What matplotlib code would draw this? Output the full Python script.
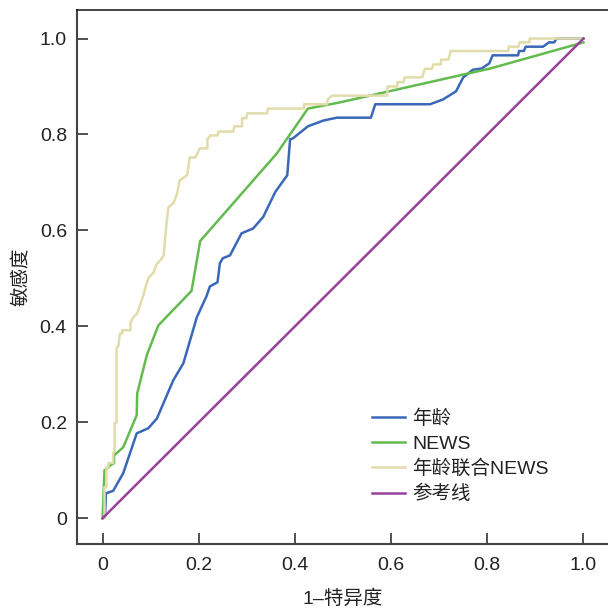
import matplotlib.pyplot as plt

plt.rcParams['font.family'] = ['Liberation Sans', 'Noto Sans CJK SC', 'DejaVu Sans']

# ROC curve points (1-specificity, sensitivity)
age_fpr = [0, 0.005, 0.007, 0.022, 0.043, 0.071, 0.095, 0.113, 0.147, 0.168, 0.182, 0.196,
           0.216, 0.223, 0.239, 0.244, 0.250, 0.265, 0.289, 0.313, 0.334, 0.359, 0.384,
           0.390, 0.396, 0.427, 0.459, 0.487, 0.558, 0.567, 0.681, 0.708, 0.735, 0.750,
           0.770, 0.788, 0.804, 0.811, 0.864, 0.866, 0.876, 0.880, 0.916, 0.928, 0.939,
           0.944, 1.0]
age_tpr = [0, 0.002, 0.052, 0.057, 0.094, 0.177, 0.1875, 0.208, 0.2875, 0.323, 0.371, 0.419,
           0.4625, 0.483, 0.492, 0.532, 0.542, 0.548, 0.594, 0.604, 0.628, 0.680, 0.715,
           0.790, 0.792, 0.817, 0.829, 0.835, 0.835, 0.863, 0.863, 0.873, 0.890, 0.919,
           0.935, 0.9375, 0.948, 0.965, 0.965, 0.974, 0.974, 0.983, 0.983, 0.992, 0.992,
           1.0, 1.0]

news_fpr = [0, 0.004, 0.012, 0.016, 0.024, 0.024, 0.043, 0.071, 0.072, 0.092, 0.116, 0.185,
            0.203, 0.362, 0.427, 0.494, 0.806, 1.0]
news_tpr = [0, 0.100, 0.106, 0.110, 0.115, 0.131, 0.148, 0.215, 0.260, 0.340, 0.402, 0.474,
            0.578, 0.760, 0.854, 0.867, 0.9375, 0.992]

comb_fpr = [0, 0.004, 0.004, 0.008, 0.008, 0.012, 0.012, 0.022, 0.022, 0.025, 0.025, 0.029,
            0.029, 0.033, 0.036, 0.041, 0.041, 0.058, 0.058, 0.064, 0.072, 0.079, 0.085,
            0.089, 0.096, 0.106, 0.112, 0.122, 0.127, 0.133, 0.137, 0.148, 0.155, 0.160,
            0.176, 0.181, 0.193, 0.202, 0.218, 0.218, 0.224, 0.239, 0.241, 0.272, 0.274,
            0.290, 0.290, 0.299, 0.301, 0.342, 0.344, 0.419, 0.419, 0.467, 0.468, 0.477,
            0.592, 0.592, 0.613, 0.613, 0.626, 0.628, 0.665, 0.667, 0.671, 0.685, 0.688,
            0.703, 0.704, 0.719, 0.724, 0.844, 0.844, 0.865, 0.867, 0.888, 0.888, 1.0]
comb_tpr = [0, 0, 0.065, 0.065, 0.106, 0.106, 0.115, 0.115, 0.135, 0.140, 0.198, 0.200,
            0.354, 0.360, 0.385, 0.385, 0.392, 0.392, 0.408, 0.419, 0.427, 0.448, 0.465,
            0.481, 0.502, 0.512, 0.529, 0.540, 0.548, 0.615, 0.648, 0.658, 0.677, 0.704,
            0.715, 0.752, 0.752, 0.771, 0.771, 0.790, 0.798, 0.798, 0.806, 0.806, 0.817,
            0.817, 0.834, 0.834, 0.844, 0.844, 0.854, 0.854, 0.863, 0.863, 0.873, 0.881,
            0.881, 0.900, 0.900, 0.909, 0.909, 0.919, 0.919, 0.928, 0.937, 0.937, 0.946,
            0.946, 0.956, 0.956, 0.974, 0.974, 0.983, 0.983, 0.992, 0.992, 1.0, 1.0]

ref_x = [0, 1]
ref_y = [0, 1]

labels = ['年龄', 'NEWS', '年龄联合NEWS', '参考线']
colors = ['#3a68b8', '#63bb4f', '#e2dcaa', '#97419a']
ticks = [0, 0.2, 0.4, 0.6, 0.8, 1.0]
tick_labels = ['0', '0.2', '0.4', '0.6', '0.8', '1.0']

fig = plt.figure(figsize=(6.08, 6.10), dpi=100)
ax = fig.add_axes([0.126, 0.108, 0.874, 0.876])

ax.plot(age_fpr, age_tpr, color=colors[0], lw=1.8, label=labels[0])
ax.plot(news_fpr, news_tpr, color=colors[1], lw=1.8, label=labels[1])
ax.plot(comb_fpr, comb_tpr, color=colors[2], lw=1.8, label=labels[2])
ax.plot(ref_x, ref_y, color=colors[3], lw=1.8, label=labels[3])

ax.set_xlim(-0.054, 1.051)
ax.set_ylim(-0.054, 1.06)
ax.set_xticks(ticks)
ax.set_xticklabels(tick_labels)
ax.set_yticks(ticks)
ax.set_yticklabels(tick_labels)
ax.tick_params(direction='in', length=8, width=1.2, colors='#333333',
               labelsize=14, labelcolor='#222222')
ax.tick_params(axis='x', pad=9)
ax.tick_params(axis='y', pad=7)

for side in ['left', 'bottom']:
    ax.spines[side].set_color('#444444')
    ax.spines[side].set_linewidth(1.5)
ax.spines['top'].set_color('#222222')
ax.spines['top'].set_linewidth(1.2)
ax.spines['right'].set_visible(False)

ax.set_xlabel('1–特异度', fontsize=14, color='#222222', labelpad=11)
ax.set_ylabel('敏感度', fontsize=14, color='#222222', labelpad=7)

leg = ax.legend(loc='upper left', bbox_to_anchor=(0.556, 0.252), frameon=False,
                fontsize=14, borderpad=0, borderaxespad=0, handlelength=1.7,
                handletextpad=0.35, labelspacing=0.36)
for t in leg.get_texts():
    t.set_color('#222222')

fig.savefig('out.png', dpi=100)
